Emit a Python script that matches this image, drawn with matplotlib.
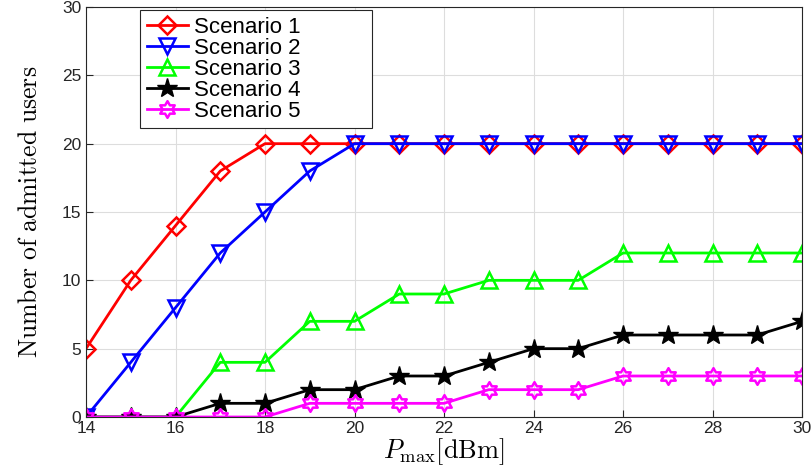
import numpy as np
import matplotlib.pyplot as plt
from matplotlib.path import Path

# data
p_max = [14, 15, 16, 17, 18, 19, 20, 21, 22, 23, 24, 25, 26, 27, 28, 29, 30]
scen1 = [5, 10, 14, 18, 20, 20, 20, 20, 20, 20, 20, 20, 20, 20, 20, 20, 20]
scen2 = [0, 4, 8, 12, 15, 18, 20, 20, 20, 20, 20, 20, 20, 20, 20, 20, 20]
scen3 = [0, 0, 0, 4, 4, 7, 7, 9, 9, 10, 10, 10, 12, 12, 12, 12, 12]
scen4 = [0, 0, 0, 1, 1, 2, 2, 3, 3, 4, 5, 5, 6, 6, 6, 6, 7]
scen5 = [0, 0, 0, 0, 0, 1, 1, 1, 1, 2, 2, 2, 3, 3, 3, 3, 3]
labels = ["Scenario 1", "Scenario 2", "Scenario 3", "Scenario 4", "Scenario 5"]

# hexagram marker (MATLAB 'h')
ang = np.deg2rad(90 + 30 * np.arange(12))
rad = np.where(np.arange(12) % 2 == 0, 1.0, 0.577)
verts = np.column_stack([rad * np.cos(ang), rad * np.sin(ang)])
verts = np.vstack([verts, verts[0]])
hexagram = Path(verts, [Path.MOVETO] + [Path.LINETO] * 11 + [Path.CLOSEPOLY])

plt.rcParams['font.family'] = ['Liberation Sans', 'DejaVu Sans']
plt.rcParams['mathtext.fontset'] = 'cm'

fig = plt.figure(figsize=(8.12, 4.67), dpi=100)
ax = fig.add_axes([86 / 812, 50 / 467, 716 / 812, 410 / 467])

ax.plot(p_max, scen1, color='red', marker='D', ms=9, mfc='none', mew=1.8, lw=2, label=labels[0])
ax.plot(p_max, scen2, color='blue', marker='v', ms=12, mfc='none', mew=1.8, lw=2, label=labels[1])
ax.plot(p_max, scen3, color='#00ff00', marker='^', ms=12, mfc='none', mew=1.8, lw=2, label=labels[2])
ax.plot(p_max, scen4, color='black', marker='*', ms=15, lw=2, label=labels[3])
ax.plot(p_max, scen5, color='magenta', marker=hexagram, ms=12, mfc='none', mew=1.8, lw=2, label=labels[4])

ax.set_xlim(14, 30)
ax.set_ylim(0, 30)
ax.set_xticks(range(14, 31, 2))
ax.set_yticks(range(0, 31, 5))
ax.grid(True, color='#dddddd', lw=0.8)
ax.set_axisbelow(True)
ax.tick_params(direction='in', labelsize=12.5, colors='#262626', length=5)
ax.tick_params(axis='x', pad=3)
for s in ax.spines.values():
    s.set_color('#262626')

ax.set_xlabel(r'$P_{\max}[\mathrm{dBm}]$', fontsize=19, labelpad=0)
ax.set_ylabel(r'$\mathrm{Number\ of\ admitted\ users}$', fontsize=18.5, labelpad=14)

leg = ax.legend(loc='upper left', bbox_to_anchor=(0.0754, 0, 0.324, 0.9927), mode='expand',
                fontsize=16, frameon=True, fancybox=False, edgecolor='#262626', framealpha=1,
                borderpad=0.3, labelspacing=0.0, handlelength=1.85, handletextpad=0.3,
                borderaxespad=0)
leg.get_frame().set_linewidth(0.8)

fig.savefig('out.png', dpi=100)
